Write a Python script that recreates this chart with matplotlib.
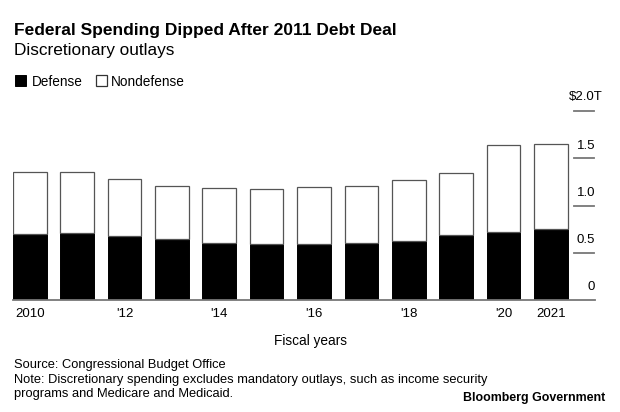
import matplotlib
matplotlib.use("Agg")
import matplotlib.pyplot as plt
from matplotlib.patches import Rectangle

plt.rcParams['font.family'] = ['Liberation Sans', 'DejaVu Sans']

years = ["2010", "2011", "2012", "2013", "2014", "2015", "2016", "2017", "2018", "2019", "2020", "2021"]
defense = [0.697, 0.708, 0.676, 0.641, 0.606, 0.588, 0.588, 0.599, 0.627, 0.690, 0.718, 0.750]
total = [1.356, 1.356, 1.285, 1.208, 1.187, 1.176, 1.197, 1.208, 1.268, 1.349, 1.637, 1.648]
nondefense = [t - d for t, d in zip(total, defense)]
xtick_pos = [0, 2, 4, 6, 8, 10, 11]
xtick_labels = ["2010", "'12", "'14", "'16", "'18", "'20", "2021"]
ytick_vals = [0.5, 1.0, 1.5, 2.0]
ytick_labels = ["0.5", "1.0", "1.5", "$2.0T"]

W, H = 620, 412
fig = plt.figure(figsize=(W / 100, H / 100), dpi=100)

def fx(px):
    return px / W

def fy(py):
    return 1 - py / H

ax_left, ax_right, ax_top, ax_bot = 13, 595, 111, 300
ax = fig.add_axes([fx(ax_left), fy(ax_bot), fx(ax_right - ax_left), (ax_bot - ax_top) / H])
ax.set_xlim(-0.354, 11.93)
ax.set_ylim(0, 2.0)

idx = list(range(len(years)))
ax.bar(idx, defense, width=0.71, color='black', edgecolor='black', linewidth=0.7, zorder=2)
ax.bar(idx, nondefense, bottom=defense, width=0.71, color='white', edgecolor='#555555', linewidth=0.9, zorder=2)

for s in ax.spines.values():
    s.set_visible(False)
ax.axhline(0, color='#777777', linewidth=1.3, zorder=3, clip_on=False)

ax.set_yticks([])
ax.set_xticks(xtick_pos)
ax.set_xticklabels(xtick_labels, fontsize=9.5)
ax.tick_params(axis='x', length=0, pad=6)

# right-side short tick lines and labels
tick_x0 = (574 - ax_left) / (ax_right - ax_left)
tick_x1 = (594 - ax_left) / (ax_right - ax_left)
trans = ax.get_yaxis_transform()
for v in ytick_vals:
    ax.plot([tick_x0, tick_x1], [v, v], transform=trans, color='#777777', linewidth=1.3, clip_on=False)
lab_x = 1.0
for v, lab in zip(ytick_vals, ytick_labels):
    if lab.startswith('$'):
        ax.text(1.0 + 8 / (ax_right - ax_left), v + 14 / 94.6, lab, transform=trans, ha='right', va='center', fontsize=9.5)
    else:
        ax.text(lab_x, v + 12.5 / 94.6, lab, transform=trans, ha='right', va='center', fontsize=9.5)
ax.text(lab_x, 13.3 / 94.6, "0", transform=trans, ha='right', va='center', fontsize=9.5)

# Titles
fig.text(fx(14), fy(35), "Federal Spending Dipped After 2011 Debt Deal", fontsize=12.5, fontweight='bold', ha='left', va='baseline')
fig.text(fx(14), fy(55), "Discretionary outlays", fontsize=12.4, ha='left', va='baseline')

# Legend
fig.add_artist(Rectangle((fx(15), fy(86)), fx(11), 11 / H, transform=fig.transFigure, facecolor='black', edgecolor='black', linewidth=0.7))
fig.text(fx(32), fy(85.5), "Defense", fontsize=9.8, ha='left', va='baseline')
fig.add_artist(Rectangle((fx(96), fy(86)), fx(10.5), 11 / H, transform=fig.transFigure, facecolor='white', edgecolor='#333333', linewidth=0.9))
fig.text(fx(111), fy(85.5), "Nondefense", fontsize=9.8, ha='left', va='baseline')

# Axis title
fig.text(fx(310), fy(345.5), "Fiscal years", fontsize=9.8, ha='center', va='baseline')

# Footer
fig.text(fx(14), fy(368), "Source: Congressional Budget Office", fontsize=9.27, ha='left', va='baseline')
fig.text(fx(14), fy(382.5), "Note: Discretionary spending excludes mandatory outlays, such as income security", fontsize=9.27, ha='left', va='baseline')
fig.text(fx(14), fy(397), "programs and Medicare and Medicaid.", fontsize=9.27, ha='left', va='baseline')
fig.text(fx(605), fy(401), "Bloomberg Government", fontsize=8.9, fontweight='bold', ha='right', va='baseline')

fig.savefig("out.png", dpi=100)
